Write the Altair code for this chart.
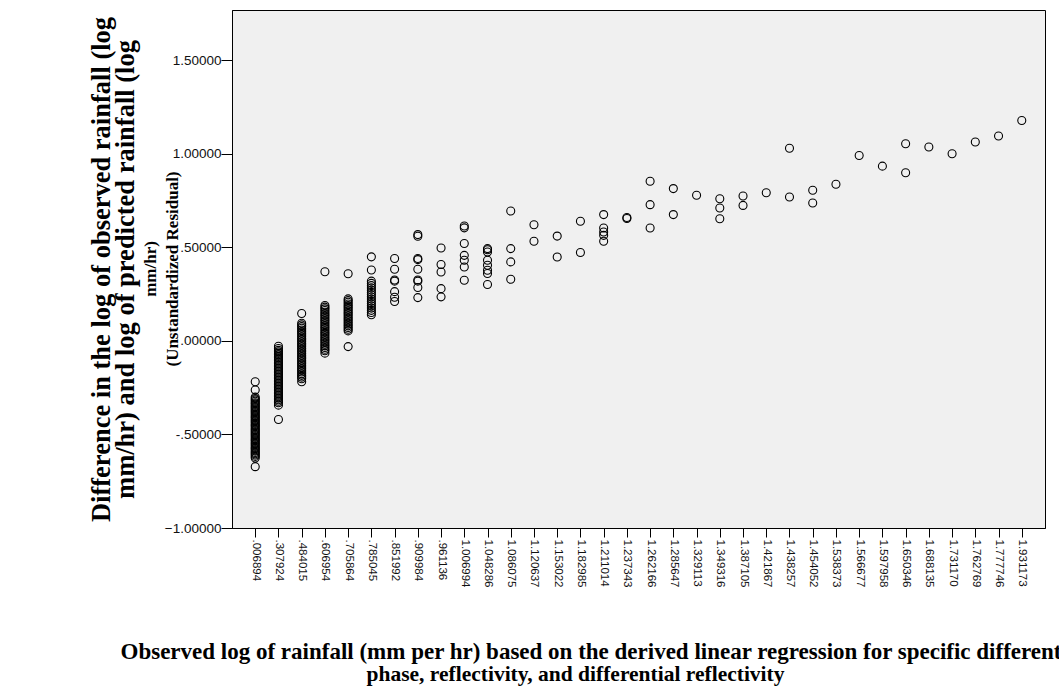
import altair as alt
import pandas as pd

# Observed log rainfall categories (x axis tick labels)
categories = [
    ".006894", ".307924", ".484015", ".606954", ".705864", ".785045",
    ".851992", ".909984", ".961136", "1.006994", "1.048286", "1.086075",
    "1.120637", "1.153022", "1.182985", "1.211014", "1.237343", "1.262166",
    "1.285647", "1.329113", "1.349316", "1.387105", "1.421867", "1.438257",
    "1.454052", "1.538373", "1.566677", "1.597958", "1.650346", "1.688135",
    "1.731170", "1.762769", "1.777746", "1.931173",
]

# Unstandardized residuals for each category
residuals = [
    [-0.218, -0.262, -0.300, -0.308, -0.315, -0.322, -0.330, -0.336, -0.343,
     -0.350, -0.357, -0.364, -0.371, -0.377, -0.384, -0.391, -0.398, -0.405,
     -0.411, -0.418, -0.425, -0.432, -0.439, -0.446, -0.452, -0.459, -0.466,
     -0.473, -0.480, -0.487, -0.493, -0.500, -0.507, -0.514, -0.521, -0.528,
     -0.534, -0.541, -0.548, -0.555, -0.562, -0.569, -0.575, -0.582, -0.589,
     -0.596, -0.603, -0.610, -0.617, -0.626, -0.672],
    [-0.028, -0.040, -0.050, -0.058, -0.066, -0.074, -0.082, -0.090, -0.098,
     -0.106, -0.114, -0.122, -0.130, -0.138, -0.146, -0.154, -0.162, -0.170,
     -0.178, -0.186, -0.194, -0.202, -0.210, -0.218, -0.226, -0.234, -0.242,
     -0.250, -0.258, -0.266, -0.274, -0.282, -0.290, -0.298, -0.306, -0.314,
     -0.322, -0.330, -0.343, -0.420],
    [0.147, 0.095, 0.086, 0.077, 0.068, 0.059, 0.050, 0.041, 0.032, 0.023,
     0.014, 0.005, -0.004, -0.013, -0.022, -0.031, -0.040, -0.049, -0.058,
     -0.067, -0.076, -0.085, -0.094, -0.103, -0.112, -0.121, -0.130, -0.139,
     -0.148, -0.157, -0.166, -0.175, -0.184, -0.193, -0.202, -0.218],
    [0.370, 0.190, 0.181, 0.172, 0.163, 0.154, 0.145, 0.136, 0.127, 0.118,
     0.109, 0.100, 0.091, 0.082, 0.073, 0.064, 0.055, 0.046, 0.037, 0.028,
     0.019, 0.010, 0.001, -0.008, -0.017, -0.026, -0.035, -0.044, -0.052,
     -0.065],
    [0.360, 0.225, 0.216, 0.207, 0.198, 0.189, 0.180, 0.171, 0.162, 0.153,
     0.144, 0.135, 0.126, 0.117, 0.108, 0.099, 0.090, 0.081, 0.072, 0.063,
     0.054, -0.030],
    [0.450, 0.380, 0.320, 0.308, 0.296, 0.284, 0.272, 0.260, 0.248, 0.236,
     0.224, 0.212, 0.200, 0.188, 0.176, 0.164, 0.152, 0.140],
    [0.441, 0.384, 0.326, 0.320, 0.264, 0.234, 0.211],
    [0.569, 0.560, 0.441, 0.435, 0.384, 0.326, 0.320, 0.286, 0.232],
    [0.497, 0.409, 0.369, 0.280, 0.236],
    [0.615, 0.605, 0.521, 0.458, 0.432, 0.396, 0.325],
    [0.494, 0.488, 0.476, 0.432, 0.405, 0.378, 0.361, 0.302],
    [0.695, 0.494, 0.423, 0.330],
    [0.622, 0.533],
    [0.561, 0.449],
    [0.640, 0.473],
    [0.676, 0.604, 0.583, 0.565, 0.533],
    [0.660, 0.655],
    [0.854, 0.729, 0.604],
    [0.815, 0.676],
    [0.779],
    [0.761, 0.711, 0.654],
    [0.775, 0.725],
    [0.793],
    [1.031, 0.770],
    [0.806, 0.738],
    [0.838],
    [0.992],
    [0.935],
    [1.055, 0.900],
    [1.037],
    [1.001],
    [1.064],
    [1.096],
    [1.179],
]

y_ticks = [-1.0, -0.5, 0.0, 0.5, 1.0, 1.5]

# Y title: two long lines on the axis, the short tail lines set smaller
y_title_lines = [
    "Difference in the log of observed rainfall (log",
    "mm/hr) and log of predicted rainfall (log",
]
y_title_tail = ["mm/hr)", "(Unstandardized Residual)"]
y_tail_offsets = [-76, -54]  # distance left of the y axis, px

x_title_line1 = ("Observed log of rainfall (mm per hr) based on the derived "
                 "linear regression for specific differential")
x_title_line2 = "phase, reflectivity, and differential reflectivity"

rows = []
for cat, vals in zip(categories, residuals):
    for v in vals:
        rows.append({"observed": cat, "residual": v})
df = pd.DataFrame(rows)

tail_df = pd.DataFrame({"line": y_title_tail, "dx": y_tail_offsets})

# SPSS-style labels: no leading zero before the decimal point
y_label_expr = (
    "abs(datum.value) < 1 ? (datum.value < 0 ? '-' : '') + "
    "slice(format(abs(datum.value), '.5f'), 1) : format(datum.value, '.5f')"
)

serif = "Liberation Serif"
sans = "Liberation Sans"

points = (
    alt.Chart(df)
    .mark_point(shape="circle", filled=False, size=64, color="black",
                strokeWidth=1.1, opacity=1)
    .encode(
        x=alt.X(
            "observed:N",
            sort=categories,
            scale=alt.Scale(type="point", padding=2.33),
            axis=alt.Axis(
                title=x_title_line1,
                titleFont=serif,
                titleFontWeight="bold",
                titleFontSize=23,
                titleColor="black",
                titleX=-112,
                titleY=130,
                titleAlign="left",
                titleBaseline="alphabetic",
                labelAngle=90,
                labelFont=sans,
                labelFontSize=11.5,
                labelColor="#111111",
                labelPadding=2,
                tickSize=9,
                tickColor="black",
                domainColor="black",
                grid=False,
            ),
        ),
        y=alt.Y(
            "residual:Q",
            scale=alt.Scale(domain=[-1.0, 1.77], nice=False, zero=False),
            axis=alt.Axis(
                values=y_ticks,
                labelExpr=y_label_expr,
                title=y_title_lines,
                titleFont=serif,
                titleFontWeight="bold",
                titleFontSize=26.5,
                titleColor="black",
                titleLineHeight=24,
                titleAngle=-90,
                titleX=-123,
                titleY=259,
                titleAlign="center",
                titleBaseline="alphabetic",
                labelFont=sans,
                labelFontSize=13.5,
                labelColor="#111111",
                labelPadding=0,
                tickSize=11,
                tickColor="black",
                domainColor="black",
                grid=False,
            ),
        ),
    )
)

tail = (
    alt.Chart(tail_df)
    .mark_text(angle=270, align="center", baseline="alphabetic", font=serif,
               fontWeight="bold", fontSize=17, color="black")
    .encode(text="line:N", x=alt.X("dx:Q", scale=None), y=alt.value(259))
)

chart = (
    alt.layer(points, tail)
    .properties(
        width=813,
        height=518,
        background="white",
        autosize=alt.AutoSizeParams(type="none"),
        padding={"left": 232, "top": 10, "right": 14, "bottom": 169},
        title=alt.TitleParams(
            text=x_title_line2,
            orient="bottom",
            anchor="middle",
            dx=-63,
            offset=1,
            font=serif,
            fontWeight="bold",
            fontSize=21.5,
            color="black",
        ),
    )
    .configure_view(fill="#F0F0F0", fillOpacity=1, stroke="black", strokeWidth=1)
)

chart.save("out.html", embed_options={"renderer": "svg", "actions": False})
